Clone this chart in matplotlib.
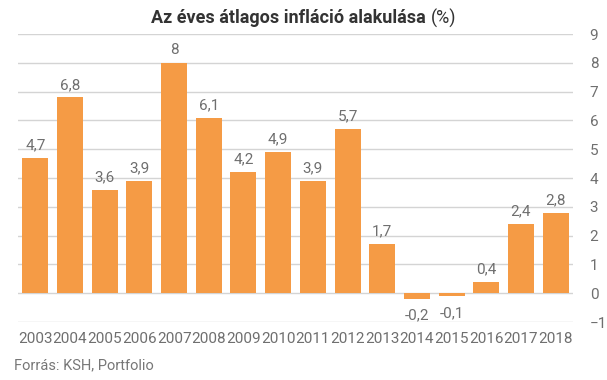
"""Annual average inflation in Hungary, 2003-2018."""

import matplotlib.pyplot as plt
import numpy as np

years = ["2003", "2004", "2005", "2006", "2007", "2008", "2009", "2010",
         "2011", "2012", "2013", "2014", "2015", "2016", "2017", "2018"]
inflation = [4.7, 6.8, 3.6, 3.9, 8.0, 6.1, 4.2, 4.9,
             3.9, 5.7, 1.7, -0.2, -0.1, 0.4, 2.4, 2.8]
y_ticks = [-1, 0, 1, 2, 3, 4, 5, 6, 7, 8, 9]

plt.rcParams['font.family'] = ['Roboto', 'DejaVu Sans']

BAR = '#F59B45'
TEXT = '#6f6f6f'

fig = plt.figure(figsize=(6.07, 3.80), dpi=100)
ax = fig.add_axes([18 / 607, 1 - 322 / 380, (573 - 18) / 607, (322 - 34) / 380])

x = np.arange(len(years))
ax.bar(x, inflation, width=0.75, color=BAR, zorder=3)

for xi, v in zip(x, inflation):
    label = f"{v:g}".replace(".", ",")
    if v >= 0:
        ax.annotate(label, (xi, v), xytext=(0, 4), textcoords='offset points',
                    ha='center', va='bottom', color=TEXT, fontsize=11)
    else:
        ax.annotate(label, (xi, v), xytext=(0, -7), textcoords='offset points',
                    ha='center', va='top', color=TEXT, fontsize=11)

ax.set_xlim(-0.5, len(years) - 0.5)
ax.set_ylim(-1, 9)
ax.set_yticks(y_ticks)
ax.yaxis.tick_right()
ax.tick_params(axis='y', length=0, pad=12, labelcolor=TEXT, labelsize=11)
ax.set_xticks(x)
ax.set_xticklabels(years)
ax.tick_params(axis='x', length=0, pad=7, labelcolor=TEXT, labelsize=11)
ax.grid(axis='y', color='#d4d4d4', linewidth=1, zorder=0)
for spine in ax.spines.values():
    spine.set_visible(False)

# title: bold part plus regular "(%)", centred together
ty = 1 - 18 / 380
t1 = fig.text(0.5, ty, "Az éves átlagos infláció alakulása ", ha='left',
              va='center', fontsize=13, fontweight='bold', color='#333333')
t2 = fig.text(0.5, ty, "(%)", ha='left', va='center',
              fontsize=13, color='#333333')
r = fig.canvas.get_renderer()
w1 = t1.get_window_extent(r).width
w2 = t2.get_window_extent(r).width
x0 = (fig.bbox.width - w1 - w2) / 2
t1.set_x(x0 / fig.bbox.width)
t2.set_x((x0 + w1) / fig.bbox.width)

fig.text(14 / 607, 1 - 365 / 380, "Forrás: KSH, Portfolio", ha='left', va='center',
         fontsize=10.5, color='#777777')

fig.savefig("out.png", dpi=100)
